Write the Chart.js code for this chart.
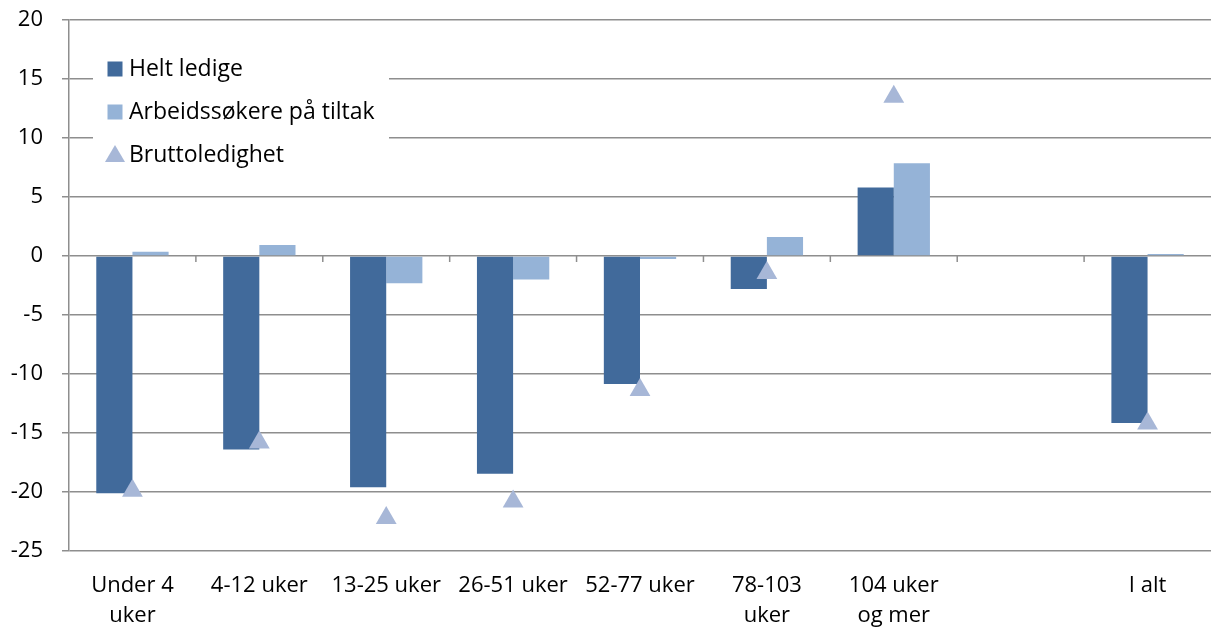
<!DOCTYPE html>
<html>
<head>
<meta charset="utf-8">
<script src="https://cdn.jsdelivr.net/npm/chart.js@4.4.0/dist/chart.umd.min.js"></script>
<style>
  html, body { margin: 0; background: #fff; overflow: hidden; }
  canvas { display: block; }
</style>
</head>
<body>
<canvas id="chart" width="1211" height="632"></canvas>
<script>
// data
const categories = [["Under 4", "uker"], "4-12 uker", "13-25 uker", "26-51 uker", "52-77 uker", ["78-103", "uker"], ["104 uker", "og mer"], "", "I alt"];
const heltLedige = [-20.1, -16.4, -19.6, -18.45, -10.85, -2.8, 5.8, null, -14.15];
const tiltak = [0.37, 0.93, -2.3, -2.0, -0.25, 1.6, 7.85, null, 0.17];
const brutto = [-19.9, -15.8, -22.2, -20.8, -11.35, -1.45, 13.5, null, -14.2];
const seriesNames = ["Helt ledige", "Arbeidssøkere på tiltak", "Bruttoledighet"];

const FONT = "'Open Sans', sans-serif";
const GRID = "#8e8e8e";

// small tick marks on the zero line between categories
const zeroTicks = {
  id: "zeroTicks",
  afterDatasetsDraw(chart) {
    const x = chart.scales.x, y = chart.scales.y;
    const y0 = y.getPixelForValue(0);
    const ctx = chart.ctx;
    ctx.save();
    ctx.strokeStyle = GRID;
    ctx.lineWidth = 1.5;
    for (let i = 1; i < categories.length; i++) {
      const px = (x.getPixelForValue(i - 1) + x.getPixelForValue(i)) / 2;
      ctx.beginPath();
      ctx.moveTo(px, y0);
      ctx.lineTo(px, y0 + 6);
      ctx.stroke();
    }
    ctx.restore();
  }
};

// legend inside the plot with white background
const boxLegend = {
  id: "boxLegend",
  afterDraw(chart) {
    const ctx = chart.ctx, area = chart.chartArea;
    const left = area.left + 24, top = area.top + 20;
    ctx.save();
    ctx.fillStyle = "#fff";
    ctx.fillRect(left, top, 296, 135);
    ctx.font = "23px " + FONT;
    ctx.textBaseline = "middle";
    chart.data.datasets.forEach((ds, i) => {
      const cy = area.top + 49 + i * 43;
      const mx = left + 22;
      ctx.fillStyle = ds.pointBackgroundColor || ds.backgroundColor;
      if (ds.type === "line") {
        ctx.beginPath();
        ctx.moveTo(mx, cy - 10);
        ctx.lineTo(mx + 10, cy + 7);
        ctx.lineTo(mx - 10, cy + 7);
        ctx.closePath();
        ctx.fill();
      } else {
        ctx.fillRect(mx - 7.5, cy - 7.5, 15, 15);
      }
      ctx.fillStyle = "#000";
      ctx.fillText(ds.label, left + 36, cy);
    });
    ctx.restore();
  }
};

new Chart(document.getElementById("chart"), {
  type: "bar",
  data: {
    labels: categories,
    datasets: [
      {
        label: seriesNames[0],
        data: heltLedige,
        backgroundColor: "#416a9b",
        order: 1
      },
      {
        label: seriesNames[1],
        data: tiltak,
        backgroundColor: "#95b3d7",
        order: 1
      },
      {
        type: "line",
        label: seriesNames[2],
        data: brutto,
        showLine: false,
        pointStyle: "triangle",
        pointRadius: 12,
        pointHoverRadius: 12,
        pointBackgroundColor: "#a7b7d7",
        pointBorderWidth: 0,
        backgroundColor: "#a7b7d7",
        order: 0
      }
    ]
  },
  options: {
    responsive: false,
    animation: false,
    layout: {
      autoPadding: false,
      padding: { top: 20, right: 0, left: 0, bottom: 0 }
    },
    datasets: {
      bar: { categoryPercentage: 0.57, barPercentage: 1.0 }
    },
    plugins: {
      legend: { display: false },
      tooltip: { enabled: false }
    },
    scales: {
      x: {
        grid: { display: false, drawTicks: false },
        border: { display: false },
        ticks: {
          color: "#000",
          font: { family: FONT, size: 22, lineHeight: 1.35 },
          padding: 20,
          maxRotation: 0,
          autoSkip: false
        },
        afterFit(scale) {
          scale.height = 81;
          scale.paddingLeft = 0;
          scale.paddingRight = 0;
        }
      },
      y: {
        min: -25,
        max: 20,
        ticks: {
          stepSize: 5,
          color: "#000",
          font: { family: FONT, size: 22 },
          padding: 19
        },
        grid: { color: GRID, lineWidth: 1.5, tickLength: 7 },
        border: { display: true, color: GRID, width: 1.5 },
        afterFit(scale) {
          scale.width = 69;
          scale.paddingTop = 0;
          scale.paddingBottom = 0;
        }
      }
    }
  },
  plugins: [zeroTicks, boxLegend]
});
</script>
</body>
</html>
